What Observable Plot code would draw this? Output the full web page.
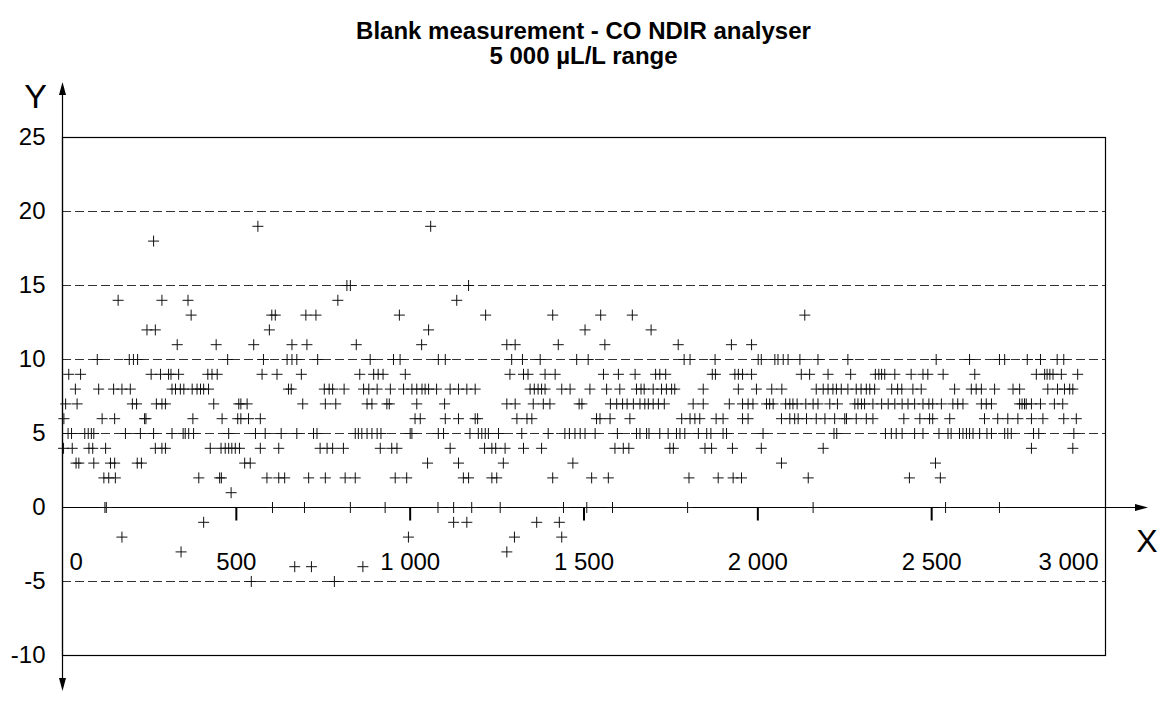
<!DOCTYPE html>
<html><head><meta charset="utf-8">
<script src="https://cdn.jsdelivr.net/npm/d3@7"></script>
<script src="https://cdn.jsdelivr.net/npm/@observablehq/plot@0.6"></script>
<style>
body{margin:0;background:#fff;font-family:"Liberation Sans",Arial,sans-serif;}
#title{height:70px;box-sizing:border-box;padding-top:18px;margin-left:62px;width:1043px;text-align:center;font-weight:bold;font-size:24px;line-height:25px;color:#000;}
</style></head><body>
<div id="title">Blank measurement - CO NDIR analyser<br>5 000 µL/L range</div>
<div id="chart"></div>
<script>
// Tick values and labels
const yTicks = [25, 20, 15, 10, 5, 0, -5, -10];
const dashedLevels = [20, 15, 10, 5, -5];
const xTicks = [0, 500, 1000, 1500, 2000, 2500, 3000];
const xTickLabels = ["0", "500", "1 000", "1 500", "2 000", "2 500", "3 000"];

// Measurement points: x positions (time) at each reading value
const y19 = [562, 1059];
const y18 = [262];
const y15 = [818, 828, 1168];
const y14 = [160, 286, 361, 792, 1134];
const y13 = [370, 602, 612, 700, 729, 969, 1217, 1410, 1548, 1639, 2135];
const y12 = [243, 267, 595, 1053, 1503, 1693];
const y11 = [330, 442, 550, 660, 703, 845, 1033, 1278, 1302, 1426, 1560, 1771, 1924, 1982];
const y10 = [100, 192, 204, 216, 475, 578, 646, 660, 674, 734, 885, 952, 971, 1081, 1101, 1292, 1323, 1374, 1479, 1512, 1788, 1805, 1877, 2001, 2010, 2049, 2058, 2073, 2087, 2121, 2173, 2259, 2513, 2609, 2695, 2710, 2775, 2813, 2861, 2880];
const y9 = [18, 52, 255, 282, 305, 312, 334, 418, 430, 445, 574, 617, 687, 855, 895, 908, 922, 986, 1287, 1326, 1339, 1388, 1417, 1556, 1599, 1647, 1706, 1718, 1735, 1869, 1878, 1934, 1944, 1956, 1982, 2125, 2149, 2202, 2267, 2338, 2348, 2356, 2365, 2394, 2441, 2475, 2489, 2533, 2624, 2801, 2825, 2832, 2840, 2849, 2873, 2920];
const y8 = [37, 104, 147, 171, 195, 315, 325, 339, 349, 373, 387, 397, 406, 420, 650, 658, 753, 767, 777, 810, 866, 881, 905, 943, 981, 1005, 1019, 1034, 1043, 1053, 1076, 1115, 1139, 1163, 1187, 1345, 1357, 1368, 1378, 1388, 1436, 1460, 1517, 1565, 1603, 1651, 1664, 1673, 1699, 1723, 1737, 1752, 1761, 1843, 1944, 1996, 2040, 2069, 2168, 2188, 2202, 2216, 2226, 2240, 2259, 2283, 2297, 2312, 2322, 2336, 2385, 2402, 2414, 2446, 2470, 2566, 2614, 2628, 2643, 2681, 2734, 2753, 2834, 2862, 2882, 2897, 2906];
const y7 = [9, 42, 201, 213, 270, 286, 296, 435, 507, 513, 531, 691, 756, 786, 876, 890, 933, 940, 1019, 1099, 1278, 1302, 1354, 1383, 1402, 1486, 1494, 1576, 1594, 1611, 1624, 1642, 1661, 1675, 1685, 1699, 1714, 1731, 1814, 1843, 1918, 1956, 1972, 1986, 2025, 2034, 2044, 2080, 2092, 2101, 2113, 2138, 2159, 2173, 2207, 2229, 2279, 2288, 2298, 2307, 2331, 2356, 2375, 2394, 2415, 2432, 2451, 2475, 2492, 2503, 2528, 2561, 2575, 2590, 2643, 2657, 2672, 2753, 2760, 2767, 2772, 2787, 2813, 2853, 2877];
const y6 = [4, 114, 150, 236, 240, 375, 459, 504, 513, 535, 569, 1014, 1029, 1101, 1139, 1187, 1194, 1307, 1336, 1350, 1536, 1546, 1575, 1632, 1781, 1805, 1819, 1833, 1880, 1900, 1956, 1972, 2068, 2092, 2106, 2116, 2140, 2168, 2193, 2221, 2250, 2255, 2283, 2312, 2331, 2420, 2466, 2494, 2503, 2552, 2652, 2690, 2719, 2748, 2787, 2820, 2880, 2916];
const y5 = [16, 26, 64, 74, 83, 90, 181, 224, 262, 315, 347, 353, 363, 377, 478, 555, 583, 629, 674, 722, 732, 842, 851, 861, 876, 890, 905, 916, 1000, 1005, 1081, 1096, 1172, 1196, 1206, 1216, 1225, 1254, 1321, 1397, 1445, 1458, 1474, 1489, 1503, 1532, 1596, 1651, 1661, 1680, 1687, 1718, 1742, 1766, 1776, 1790, 1829, 1853, 1865, 1900, 1910, 2015, 2219, 2227, 2367, 2384, 2398, 2415, 2451, 2475, 2521, 2547, 2556, 2580, 2590, 2600, 2609, 2619, 2638, 2659, 2672, 2710, 2719, 2729, 2793, 2808, 2909];
const y4 = [3, 28, 76, 87, 124, 267, 286, 296, 425, 456, 468, 478, 487, 497, 509, 569, 622, 741, 761, 777, 808, 914, 947, 962, 1115, 1214, 1235, 1246, 1273, 1326, 1378, 1589, 1613, 1629, 1747, 1757, 1848, 1867, 1927, 2010, 2188, 2787, 2906];
const y3 = [39, 47, 90, 138, 150, 215, 227, 524, 540, 1050, 1139, 1268, 1468, 2068, 2511];
const y2 = [119, 133, 152, 392, 452, 457, 588, 622, 639, 708, 756, 813, 842, 957, 990, 1153, 1168, 1235, 1249, 1410, 1522, 1570, 1802, 1886, 1929, 1953, 2145, 2436, 2525];
const y1 = [485];
const y0 = [122, 126, 604, 696, 828, 928, 1080, 1125, 1177, 1259, 1441, 1508, 1582, 1798, 2159, 2540, 2695];
const yM1 = [406, 1125, 1163, 1364, 1429];
const yM2 = [171, 995, 1300, 1436];
const yM3 = [341, 1278];
const yM4 = [668, 716, 864];
const yM5 = [543, 782];

const levels = [[19, y19], [18, y18], [15, y15], [14, y14], [13, y13], [12, y12], [11, y11], [10, y10], [9, y9], [8, y8], [7, y7], [6, y6], [5, y5], [4, y4], [3, y3], [2, y2], [1, y1], [0, y0], [-1, yM1], [-2, yM2], [-3, yM3], [-4, yM4], [-5, yM5]];
const points = [];
for (const [v, xs] of levels) for (const x of xs) points.push({x, y: v});

const tickLabelData = xTicks.map((x, i) => ({x, label: xTickLabels[i]}));

const thinPlus = {draw(ctx, size) {
  const r = Math.sqrt(size / Math.PI);
  ctx.moveTo(-r, 0); ctx.lineTo(r, 0);
  ctx.moveTo(0, -r); ctx.lineTo(0, r);
}};
const tickDown = {draw(ctx, size) { ctx.moveTo(0, 0); ctx.lineTo(0, 13); }};

const FONT = '"Liberation Sans", Arial, sans-serif';

const plot = Plot.plot({
  width: 1158, height: 636,
  marginLeft: 62, marginRight: 53, marginTop: 67, marginBottom: 51,
  x: {domain: [0, 3000], axis: null},
  y: {domain: [-10, 25]},
  style: {fontFamily: FONT, fontSize: "24px", color: "#000", background: "#fff", overflow: "visible"},
  marks: [
    Plot.ruleY(dashedLevels, {stroke: "#333", strokeDasharray: "9,4", strokeWidth: 1}),
    Plot.ruleY([0], {stroke: "#000", strokeWidth: 1.2}),
    Plot.frame({stroke: "#000", strokeWidth: 1.2}),
    Plot.axisY({ticks: yTicks, tickSize: 0, tickPadding: 17, fontSize: 24, tickFormat: d => String(d), label: null}),
    Plot.dot(xTicks.filter(d => d > 0 && d < 3000), {x: d => d, y: 0, r: 5, symbol: tickDown, fill: "none", stroke: "#000", strokeWidth: 2}),
    Plot.text(tickLabelData.filter(d => d.x === 0), {x: "x", y: 0, text: "label", dy: 55, dx: 7, textAnchor: "start", fontSize: 24, fill: "#000"}),
    Plot.text(tickLabelData.filter(d => d.x > 0 && d.x < 3000), {x: "x", y: 0, text: "label", dy: 55, textAnchor: "middle", fontSize: 24, fill: "#000"}),
    Plot.text(tickLabelData.filter(d => d.x === 3000), {x: "x", y: 0, text: "label", dy: 55, dx: -7, textAnchor: "end", fontSize: 24, fill: "#000"}),
    Plot.dot(points, {x: "x", y: "y", r: 5.5, symbol: thinPlus, fill: "none", stroke: "#111", strokeWidth: 1})
  ]
});

// axis arrows and letters, positioned from the plot's scales
const sx = plot.scale("x"), sy = plot.scale("y");
const x0 = sx.apply(0) + 0.5, yZero = sy.apply(0) + 0.5;
const xEnd = sx.apply(3000), yTop = sy.apply(25), yBot = sy.apply(-10);
const svg = d3.select(plot);
const g = svg.append("g");
const topTip = yTop - 55, botTip = yBot + 36, rightTip = xEnd + 43;
g.append("line").attr("x1", x0).attr("x2", x0).attr("y1", topTip + 8).attr("y2", botTip - 8).attr("stroke", "#000").attr("stroke-width", 1.2);
g.append("line").attr("x1", xEnd).attr("x2", rightTip - 8).attr("y1", yZero).attr("y2", yZero).attr("stroke", "#000").attr("stroke-width", 1.2);
g.append("path").attr("d", `M${x0},${topTip}L${x0 - 3.5},${topTip + 13}L${x0 + 3.5},${topTip + 13}Z`).attr("fill", "#000");
g.append("path").attr("d", `M${x0},${botTip}L${x0 - 3.5},${botTip - 13}L${x0 + 3.5},${botTip - 13}Z`).attr("fill", "#000");
g.append("path").attr("d", `M${rightTip},${yZero}L${rightTip - 13},${yZero - 3.5}L${rightTip - 13},${yZero + 3.5}Z`).attr("fill", "#000");
g.append("text").attr("x", x0 - 27).attr("y", yTop - 41).attr("text-anchor", "middle").attr("dominant-baseline", "central")
  .attr("font-size", 34).attr("font-family", FONT).attr("fill", "#000").text("Y");
g.append("text").attr("x", xEnd + 42).attr("y", yZero + 33).attr("text-anchor", "middle").attr("dominant-baseline", "central")
  .attr("font-size", 32).attr("font-family", FONT).attr("fill", "#000").text("X");

document.getElementById("chart").appendChild(plot);
</script>
</body></html>
